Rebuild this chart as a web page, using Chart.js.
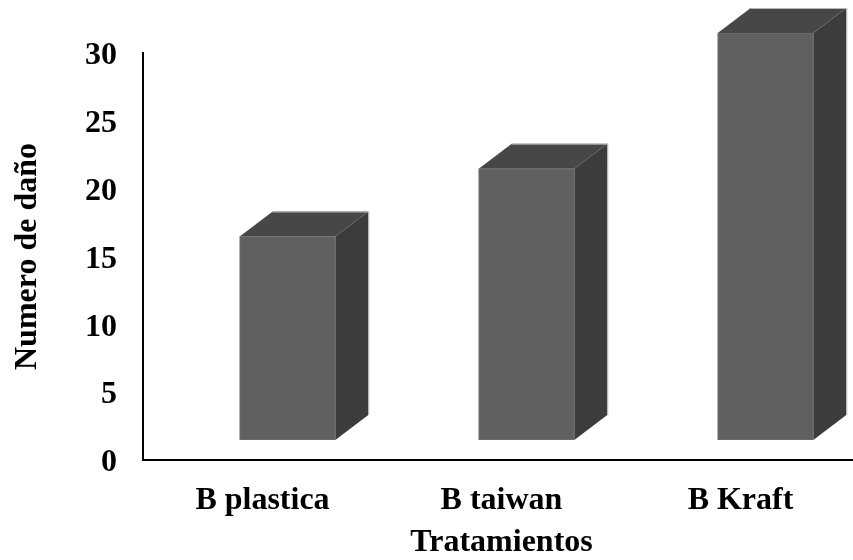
<!DOCTYPE html>
<html>
<head>
<meta charset="utf-8">
<script src="https://cdn.jsdelivr.net/npm/chart.js@4.4.1/dist/chart.umd.min.js"></script>
<style>
  html, body { margin: 0; padding: 0; background: #ffffff; }
  #wrap { width: 853px; height: 560px; }
</style>
</head>
<body>
<div id="wrap"><canvas id="c" width="853" height="560"></canvas></div>
<script>
// Daños registrados por tratamiento
const categories = ['B plastica', 'B taiwan', 'B Kraft'];
const damageCounts = [15, 20, 30];
const yTicks = [0, 5, 10, 15, 20, 25, 30];

const FONT = 'Liberation Serif, Times New Roman, serif';

// The category axis runs slightly past the right edge of the canvas.
const widenX = {
  id: 'widenX',
  afterLayout(chart) {
    const x = chart.scales.x;
    x.right += 7;
    x.width += 7;
    x.configure();
  }
};

// Draws each bar as an Excel-style box: front, top and side faces.
const boxBars = {
  id: 'boxBars',
  afterDatasetsDraw(chart) {
    const ctx = chart.ctx;
    const meta = chart.getDatasetMeta(0);
    const shiftX = 25, shiftY = -20;   // front face offset from the axis plane
    const depthX = 33, depthY = -25;   // box depth
    ctx.save();
    meta.data.forEach(bar => {
      const w = bar.width;
      const l = bar.x - w / 2 + shiftX;
      const r = bar.x + w / 2 + shiftX;
      const t = bar.y + shiftY;
      const b = bar.base + shiftY;

      // side face
      ctx.fillStyle = '#3c3c3c';
      ctx.beginPath();
      ctx.moveTo(r, t);
      ctx.lineTo(r + depthX, t + depthY);
      ctx.lineTo(r + depthX, b + depthY);
      ctx.lineTo(r, b);
      ctx.closePath();
      ctx.fill();

      // top face
      ctx.fillStyle = '#474747';
      ctx.beginPath();
      ctx.moveTo(l, t);
      ctx.lineTo(l + depthX, t + depthY);
      ctx.lineTo(r + depthX, t + depthY);
      ctx.lineTo(r, t);
      ctx.closePath();
      ctx.fill();

      // front face
      ctx.fillStyle = '#606060';
      ctx.fillRect(l, t, r - l, b - t);
      ctx.strokeStyle = '#6a6a6a';
      ctx.lineWidth = 1;
      ctx.strokeRect(l + 0.5, t + 0.5, r - l - 1, b - t - 1);

      // light rim along the back edges
      ctx.strokeStyle = '#b8b8b8';
      ctx.lineWidth = 1;
      ctx.beginPath();
      ctx.moveTo(l + depthX, t + depthY + 0.5);
      ctx.lineTo(r + depthX + 0.5, t + depthY + 0.5);
      ctx.lineTo(r + depthX + 0.5, b + depthY);
      ctx.stroke();
    });
    ctx.restore();
  }
};

new Chart(document.getElementById('c'), {
  type: 'bar',
  data: {
    labels: categories,
    datasets: [{
      data: damageCounts,
      backgroundColor: 'rgba(0,0,0,0)',
      borderWidth: 0,
      categoryPercentage: 1.0,
      barPercentage: 0.4
    }]
  },
  options: {
    responsive: false,
    animation: false,
    layout: { padding: { top: 53, right: 0, left: 0, bottom: 0 } },
    plugins: {
      legend: { display: false },
      tooltip: { enabled: false }
    },
    scales: {
      x: {
        grid: { display: false, drawTicks: false },
        border: { display: true, color: '#000000', width: 2 },
        ticks: {
          color: '#000000',
          padding: 22,
          maxRotation: 0,
          font: { family: FONT, size: 32, weight: 'bold' }
        },
        title: {
          display: true,
          text: 'Tratamientos',
          color: '#000000',
          padding: { top: 0, bottom: -2 },
          font: { family: FONT, size: 32, weight: 'bold' }
        },
        afterFit(scale) { scale.height = 100; }
      },
      y: {
        min: 0,
        max: 30,
        afterBuildTicks(scale) { scale.ticks = yTicks.map(v => ({ value: v })); },
        grid: { display: false, drawTicks: false },
        border: { display: true, color: '#000000', width: 2 },
        ticks: {
          color: '#000000',
          padding: 26,
          labelOffset: 3,
          font: { family: FONT, size: 32, weight: 'bold' }
        },
        title: {
          display: true,
          text: 'Numero de daño',
          color: '#000000',
          padding: { top: 9, bottom: 0 },
          font: { family: FONT, size: 32, weight: 'bold' }
        },
        afterFit(scale) { scale.width = 143; }
      }
    }
  },
  plugins: [widenX, boxBars]
});
</script>
</body>
</html>
